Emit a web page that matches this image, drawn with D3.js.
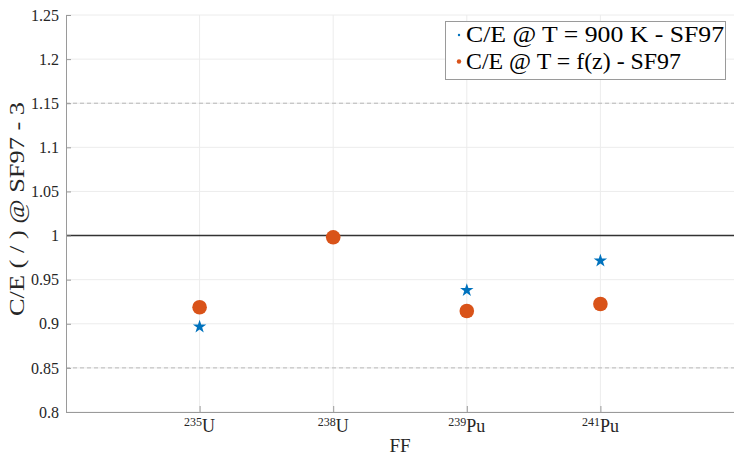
<!DOCTYPE html>
<html>
<head>
<meta charset="utf-8">
<title>C/E @ SF97</title>
<script src="https://cdnjs.cloudflare.com/ajax/libs/d3/7.8.5/d3.min.js"></script>
</head>
<body style="margin:0;background:#fff">
<svg id="chart" width="734" height="455" font-family="Liberation Serif"></svg>
<script>
// fission fragment labels (mass number, element)
const isotopes = [["235", "U"], ["238", "U"], ["239", "Pu"], ["241", "Pu"]];
const ceFixedT = [0.8967, 0.998, 0.938, 0.9715];   // C/E @ T = 900 K
const ceFz = [0.9187, 0.998, 0.9145, 0.9224];       // C/E @ T = f(z)
const yTicks = [0.8, 0.85, 0.9, 0.95, 1, 1.05, 1.1, 1.15, 1.2, 1.25];
const legendNames = ["C/E @ T = 900 K - SF97", "C/E @ T = f(z) - SF97"];

const blue = "#0072BD", orange = "#D95319";
const serif = "Liberation Serif";

let svg = d3.select("#chart");
let mLeft = 66, mRight = 734, mTop = 15, mBottom = 412;

let x = d3.scaleLinear().domain([0, 5]).range([mLeft, mRight]);
let y = d3.scaleLinear().domain([0.8, 1.25]).range([mBottom, mTop]);

// grid
svg.append("g").selectAll("line").data(yTicks).join("line")
  .attr("x1", mLeft).attr("x2", mRight)
  .attr("y1", d => y(d)).attr("y2", d => y(d))
  .attr("stroke", "#ececec").attr("stroke-width", 1);
svg.append("g").selectAll("line").data(isotopes).join("line")
  .attr("x1", (d, i) => x(i + 1)).attr("x2", (d, i) => x(i + 1))
  .attr("y1", mTop).attr("y2", mBottom)
  .attr("stroke", "#ececec").attr("stroke-width", 1);

// reference lines
svg.append("g").selectAll("line").data([0.85, 1.15]).join("line")
  .attr("x1", mLeft).attr("x2", mRight)
  .attr("y1", d => y(d)).attr("y2", d => y(d))
  .attr("stroke", "#b8b8b8").attr("stroke-dasharray", "4,3");
svg.append("line")
  .attr("x1", mLeft).attr("x2", mRight)
  .attr("y1", y(1)).attr("y2", y(1))
  .attr("stroke", "#333").attr("stroke-width", 1.5);

// axes
let yAxis = d3.axisLeft(y).tickValues(yTicks).tickSizeInner(-5).tickSizeOuter(0)
  .tickFormat(d => d3.format("~g")(d));
let gy = svg.append("g").attr("transform", `translate(${mLeft},0)`).call(yAxis);
gy.attr("font-family", serif);
gy.select(".domain").attr("stroke", "#9a9a9a");
gy.selectAll(".tick line").attr("stroke", "#9a9a9a");
gy.selectAll(".tick text").attr("font-size", 16)
  .attr("fill", "#262626").attr("x", -7);

let xAxis = d3.axisBottom(x).tickValues([1, 2, 3, 4]).tickSizeInner(-6).tickSizeOuter(0)
  .tickFormat("");
let gx = svg.append("g").attr("transform", `translate(0,${mBottom})`).call(xAxis);
gx.select(".domain").attr("stroke", "#9a9a9a");
gx.selectAll(".tick line").attr("stroke", "#9a9a9a");

// x tick labels with superscript mass number
svg.append("g").attr("font-family", serif).selectAll("text").data(isotopes).join("text")
  .attr("x", (d, i) => x(i + 1)).attr("y", 432)
  .attr("text-anchor", "middle")
  .attr("fill", "#262626")
  .each(function(d) {
    let t = d3.select(this);
    t.append("tspan").attr("font-size", 12).attr("dy", -6).text(d[0]);
    t.append("tspan").attr("font-size", 18).attr("dy", 6).text(d[1]);
  });

// axis titles
svg.append("text").attr("x", (mLeft + mRight) / 2).attr("y", 452)
  .attr("text-anchor", "middle").attr("font-size", 19).attr("font-family", serif)
  .attr("fill", "#262626").text("FF");
svg.append("text").attr("transform", "translate(24,209) rotate(-90)")
  .attr("text-anchor", "middle").attr("font-size", 20).attr("font-family", serif)
  .attr("textLength", 214).attr("lengthAdjust", "spacingAndGlyphs")
  .attr("fill", "#262626").text("C/E ( / ) @ SF97 - 3");

// data
let star = d3.symbol().type(d3.symbolStar).size(56);
svg.append("g").selectAll("path").data(ceFixedT).join("path")
  .attr("d", star)
  .attr("transform", (d, i) => `translate(${x(i + 1)},${y(d)})`)
  .attr("fill", blue);
svg.append("g").selectAll("circle").data(ceFz).join("circle")
  .attr("cx", (d, i) => x(i + 1)).attr("cy", d => y(d)).attr("r", 7.3)
  .attr("fill", orange);

// legend
let lg = svg.append("g").attr("font-family", serif);
lg.append("rect").attr("x", 445.5).attr("y", 21.5).attr("width", 280).attr("height", 58)
  .attr("fill", "#fff").attr("stroke", "#9a9a9a");
legendNames.forEach(function(name, i) {
  let cy = 35 + i * 26.5;
  lg.append("circle").attr("cx", 459).attr("cy", cy).attr("r", i === 0 ? 1.2 : 2.2)
    .attr("fill", i === 0 ? blue : orange);
  lg.append("text").attr("x", 466).attr("y", cy + 7)
    .attr("font-size", 23).attr("fill", "#000")
    .attr("textLength", i === 0 ? 258 : 215).attr("lengthAdjust", "spacingAndGlyphs")
    .text(name);
});
</script>
</body>
</html>
